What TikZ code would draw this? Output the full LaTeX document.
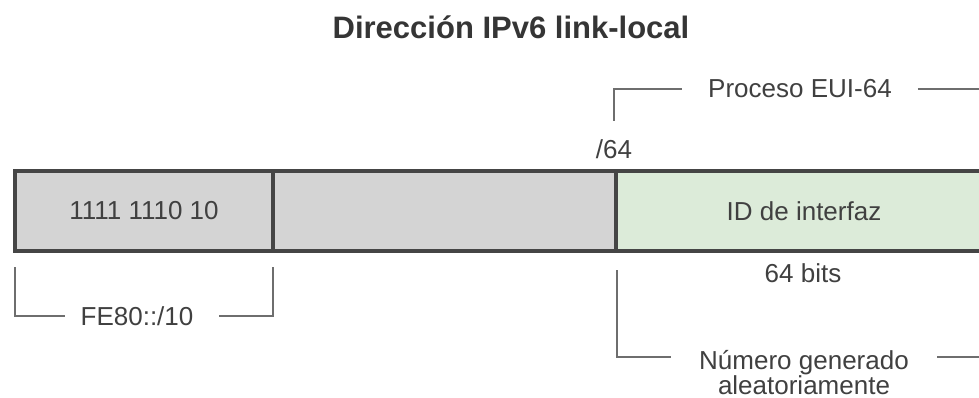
\documentclass[tikz,border=0pt]{standalone}
\usepackage{fontspec}
\setmainfont{Liberation Sans}
\definecolor{txt}{HTML}{404040}
\definecolor{ttl}{HTML}{353535}
\definecolor{barline}{HTML}{454545}
\definecolor{brk}{HTML}{6E6E6E}
\definecolor{segg}{HTML}{D4D4D4}
\definecolor{segv}{HTML}{DCEBD9}
\begin{document}
\begin{tikzpicture}[x=1pt,y=-1pt,
  seg/.style={draw=barline,line width=3.5pt,minimum height=80pt,inner sep=0pt,text=txt,font=\fontsize{26}{30}\selectfont},
  lbl/.style={text=txt,font=\fontsize{26}{26}\selectfont,inner ysep=0pt},
  bracket/.style={draw=brk,line width=1.6pt}]
\useasboundingbox (0,0) rectangle (979,398);
\clip (0,0) rectangle (979,398);
\fill[white] (0,0) rectangle (979,398);
\node[text=ttl,font=\bfseries\fontsize{31}{31}\selectfont] (title) at (511,27) {Dirección IPv6 link-local};
% bar
\node[seg,fill=segg,minimum width=258pt] (pre) at (144,211) {1111 1110 10};
\node[seg,fill=segg,minimum width=343pt] (mid) at (444.5,211) {};
\node[seg,fill=segv,minimum width=376pt] (iid) at (804,211) {ID de interfaz};
% labels
\node[lbl] (p64) at (614,149) {/64};
\node[lbl] (bits) at (803,273) {64 bits};
% top bracket
\node[lbl,inner xsep=26pt] (eui) at (800,89) {Proceso EUI-64};
\coordinate (t1) at (614,121);
\coordinate (t2) at (990,89);
\draw[bracket] (t1) |- (eui.west);
\draw[bracket] (eui.east) -- (t2);
% left bracket
\node[lbl,inner xsep=0pt] (fe) at (137,316) {FE80::/10};
\coordinate (l1) at (15,267);
\coordinate (l2) at (273,267);
\draw[bracket] (l1) |- ([xshift=-15pt]fe.west);
\draw[bracket] (l2) |- ([xshift=25pt]fe.east);
% bottom bracket
\node[lbl,align=center,font=\fontsize{26}{25}\selectfont] (gen) at (804,372.5) {Número generado\\aleatoriamente};
\coordinate (b1) at (617,270);
\coordinate (b2) at (617,357);
\coordinate (b3) at (990,357);
\draw[bracket] (b1) -- (b2) -- ([xshift=-25pt]gen.west |- b2);
\draw[bracket] ([xshift=25pt]gen.east |- b2) -- (b3);
\end{tikzpicture}
\end{document}
